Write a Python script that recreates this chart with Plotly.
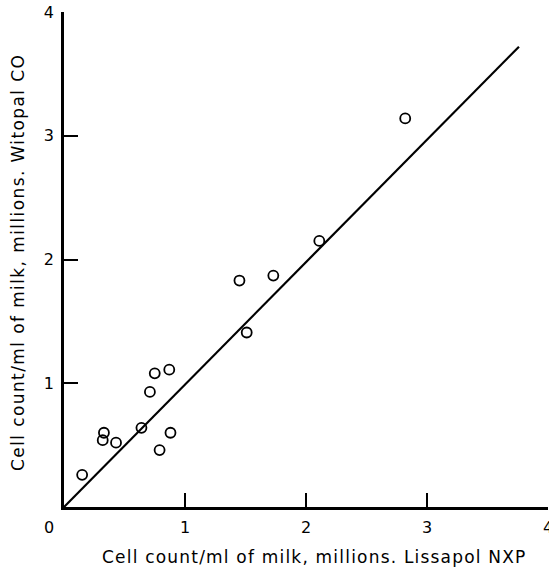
import plotly.graph_objects as go

# Cell counts (millions per ml of milk) measured with the two reagents
lissapol_nxp = [0.15, 0.33, 0.32, 0.43, 0.64, 0.71, 0.75, 0.87, 0.88, 0.79,
                1.45, 1.51, 1.73, 2.11, 2.82]
witopal_co = [0.26, 0.60, 0.54, 0.52, 0.64, 0.93, 1.08, 1.11, 0.60, 0.46,
              1.83, 1.41, 1.87, 2.15, 3.14]

# Line of equality drawn through the plot
line_x = [0.0, 3.76]
line_y = [0.0, 3.72]

tick_vals = [1, 2, 3, 4]
tick_text = ["1", "2", "3", "4"]

x_title = "Cell count/ml of milk, millions. Lissapol NXP"
y_title = "Cell count/ml of milk, millions. Witopal CO"

font_family = "DejaVu Sans, sans-serif"
tick_font = dict(family=font_family, size=16, color="black")
title_font = dict(family=font_family, size=17, color="black")

W, H = 549, 569
ML, MR, MT, MB = 64, 1, 12, 62
PW, PH = W - ML - MR, H - MT - MB


def px_to_paper(px, py):
    """Convert page pixel coordinates to paper fractions."""
    return (px - ML) / PW, (H - MB - py) / PH


def spaced(text, spacing="1.2px"):
    return f'<span style="letter-spacing:{spacing}">{text}</span>'


fig = go.Figure()
fig.add_trace(go.Scatter(
    x=line_x, y=line_y, mode="lines",
    line=dict(color="black", width=2.2),
    hoverinfo="skip",
))
fig.add_trace(go.Scatter(
    x=lissapol_nxp, y=witopal_co, mode="markers",
    marker=dict(symbol="circle-open", size=10, color="black",
                line=dict(color="black", width=1.8)),
))

axis_common = dict(
    range=[0, 4], showgrid=False, zeroline=False,
    showline=True, linecolor="black", linewidth=2.5,
    ticks="inside", ticklen=14, tickwidth=2.2, tickcolor="black",
    tickvals=tick_vals,
)

xt_x, xt_y = px_to_paper(314, 557)
yt_x, yt_y = px_to_paper(18, 263)

annotations = [
    # corner origin label
    dict(text="0", x=0, y=0, xref="x", yref="y", showarrow=False,
         xanchor="center", yanchor="middle", xshift=-15, yshift=-20,
         font=tick_font),
    dict(text=spaced(x_title), x=xt_x, y=xt_y, xref="paper", yref="paper",
         showarrow=False, xanchor="center", yanchor="middle",
         font=title_font),
    dict(text=spaced(y_title, "1.4px"), x=yt_x, y=yt_y, xref="paper",
         yref="paper", showarrow=False, xanchor="center", yanchor="middle",
         textangle=-90, font=title_font),
]
# x-axis tick labels
for v, t in zip(tick_vals, tick_text):
    annotations.append(dict(text=t, x=v, y=0, xref="x", yref="y",
                            showarrow=False, xanchor="center",
                            yanchor="middle", yshift=-20, font=tick_font))

fig.update_layout(
    width=W, height=H,
    margin=dict(l=ML, r=MR, t=MT, b=MB),
    paper_bgcolor="white", plot_bgcolor="white",
    showlegend=False,
    xaxis=dict(**axis_common, showticklabels=False),
    yaxis=dict(**axis_common, ticktext=tick_text, tickfont=tick_font,
               ticklabelstandoff=4),
    annotations=annotations,
)

fig.write_html("out.html")
